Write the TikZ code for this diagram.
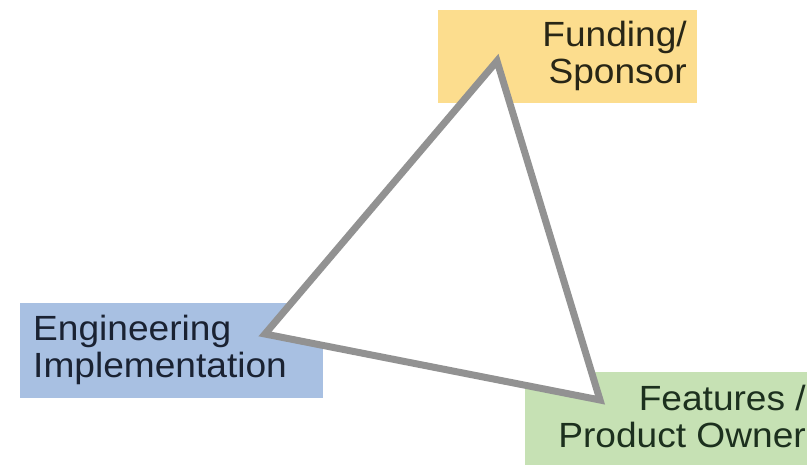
\documentclass[tikz,border=0pt]{standalone}
\usepackage{fontspec}
\setmainfont{Liberation Sans}[FakeStretch=1.06]
\usetikzlibrary{positioning}
\definecolor{fundfill}{RGB}{252,221,142}
\definecolor{engfill}{RGB}{168,192,226}
\definecolor{featfill}{RGB}{198,225,180}
\definecolor{fundtext}{RGB}{40,38,22}
\definecolor{engtext}{RGB}{26,34,50}
\definecolor{feattext}{RGB}{28,48,30}
\definecolor{edgegray}{RGB}{146,146,146}

\begin{document}
\begin{tikzpicture}[x=1pt, y=-1pt]
            \tikzset {
                basic box/.style={
                        inner sep=0pt,
                        anchor=north west
                    },
                basic label/.style={
                        font=\fontsize{35}{37}\selectfont,
                        inner sep=0pt
                    },
                triangle edge/.style={
                        draw=edgegray,
                        fill=white,
                        line width=7pt,
                        line join=miter
                    }}

            \useasboundingbox (0,0) rectangle (807,465);

            % coloured boxes
            \node[basic box, fill=fundfill, minimum width=259pt, minimum height=93pt] (fundbox) at (438,10) {};
            \node[basic box, fill=engfill, minimum width=303pt, minimum height=95pt] (engbox) at (20,303) {};
            \node[basic box, fill=featfill, minimum width=282pt, minimum height=93pt] (featbox) at (525,372) {};

            % texts
            \node[basic label, text=fundtext, align=right, anchor=north east] (fund) at (687,21) {Funding/\\Sponsor};
            \node[basic label, text=engtext, align=left, anchor=north west] (eng) at (33,315) {Engineering\\Implementation};
            \node[basic label, text=feattext, align=right, anchor=north east] (feat) at (806,385) {Features /\\Product Owner};

            % triangle
            \coordinate (apex) at (497,61);
            \coordinate (lcorner) at (265,334);
            \coordinate (rcorner) at (600,400);
            \draw[triangle edge] (apex) -- (lcorner) -- (rcorner) -- cycle;
        \end{tikzpicture}
\end{document}
